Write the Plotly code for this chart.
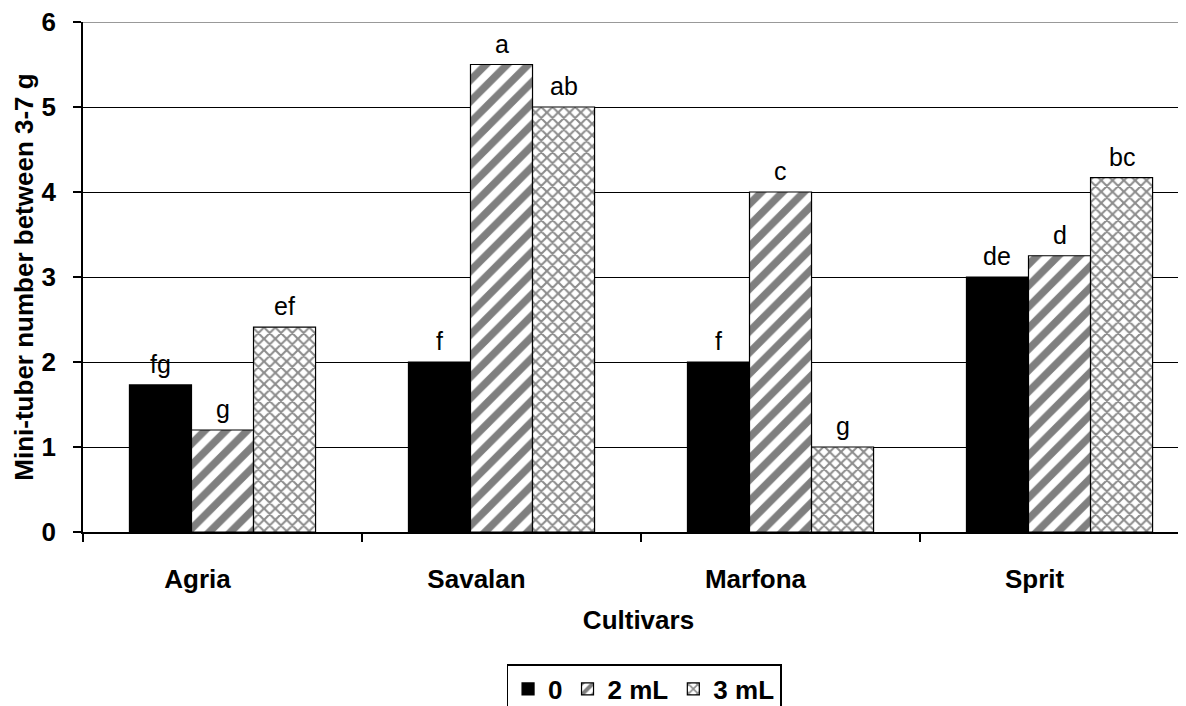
import plotly.graph_objects as go

cultivars = ["Agria", "Savalan", "Marfona", "Sprit"]
series_names = ["0", "2 mL", "3 mL"]
vals_0 = [1.73, 2.0, 2.0, 3.0]
vals_2 = [1.2, 5.5, 4.0, 3.25]
vals_3 = [2.41, 5.0, 1.0, 4.17]
letters_0 = ["fg", "f", "f", "de"]
letters_2 = ["g", "a", "c", "d"]
letters_3 = ["ef", "ab", "g", "bc"]
y_ticks = [0, 1, 2, 3, 4, 5, 6]

FONT = "Liberation Sans, Arial, sans-serif"
BOLD = dict(family=FONT, size=26, color="black", weight="bold")
BARGAP = 0.333

fig = go.Figure()
styles = [
    dict(color="black", pattern=dict(shape="")),
    dict(color="white", pattern=dict(shape="/", size=15, solidity=0.5, fgcolor="black",
                                     bgcolor="white", fillmode="overlay")),
    dict(color="white", pattern=dict(shape="x", size=8, solidity=0.45, fgcolor="#1a1a1a",
                                     bgcolor="white", fillmode="overlay")),
]
all_vals = [vals_0, vals_2, vals_3]
all_letters = [letters_0, letters_2, letters_3]
for name, vals, st in zip(series_names, all_vals, styles):
    fig.add_trace(go.Bar(
        x=cultivars, y=vals, name=name,
        marker=dict(color=st["color"], pattern=st["pattern"],
                    line=dict(color="black", width=1.2)),
    ))

# significance letters above each bar
bar_w = (1 - BARGAP) / 3
for j, (vals, labs) in enumerate(zip(all_vals, all_letters)):
    for i, (v, lab) in enumerate(zip(vals, labs)):
        fig.add_annotation(x=i + (j - 1) * bar_w, y=v, xref="x", yref="y",
                           text=lab, showarrow=False, yanchor="middle", yshift=21,
                           font=dict(family=FONT, size=25, color="black"))

# grey top border of the plot area
fig.add_shape(type="line", xref="paper", yref="y", x0=0, x1=1, y0=6, y1=6,
              line=dict(color="#999999", width=2), layer="above")

fig.update_layout(
    width=1186, height=706,
    margin=dict(l=75, r=0, t=14, b=182),
    paper_bgcolor="white", plot_bgcolor="white",
    barmode="group", bargap=BARGAP, bargroupgap=0,
    showlegend=True,
    legend=dict(orientation="h", x=0.505, xanchor="center", y=-0.259, yanchor="top",
                bordercolor="black", borderwidth=1.5, font=BOLD,
                itemwidth=30, tracegroupgap=0, traceorder="normal"),
    xaxis=dict(
        range=[-0.5, 3.482], showline=True, linecolor="black", linewidth=1.5,
        ticks="outside", tickson="boundaries", ticklen=8, tickcolor="black", tickwidth=1.5,
        tickfont=BOLD, ticklabelstandoff=23, ticklabelshift=-25,
        title=dict(text="Cultivars", font=BOLD, standoff=18),
        showgrid=False, zeroline=False, automargin=False,
    ),
    yaxis=dict(
        range=[0, 6], tickvals=y_ticks, showline=True, linecolor="black", linewidth=1.5,
        ticks="outside", ticklen=8, tickcolor="black", tickwidth=1.5,
        tickfont=BOLD, ticklabelstandoff=12, ticklabeloverflow="allow",
        showgrid=True, gridcolor="black", gridwidth=1.4, zeroline=False,
        automargin=False,
        title=dict(text="Mini-tuber number between 3-7 g", font=BOLD, standoff=0),
    ),
)

fig.write_html("out.html")
